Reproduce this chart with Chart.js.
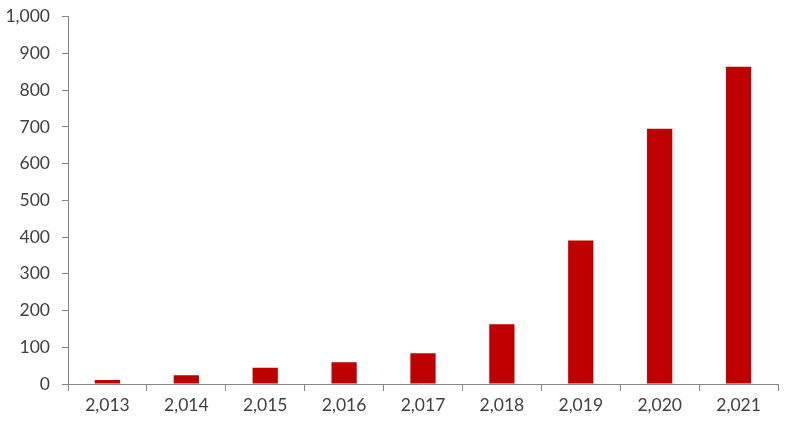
<!DOCTYPE html>
<html>
<head>
<meta charset="utf-8">
<script src="https://cdn.jsdelivr.net/npm/chart.js@4"></script>
<style>
  html, body { margin: 0; padding: 0; background: #fff; }
  #wrap { width: 800px; height: 426px; }
</style>
</head>
<body>
<div id="wrap"><canvas id="myChart" width="800" height="426"></canvas></div>
<script>
var years = ['2,013', '2,014', '2,015', '2,016', '2,017', '2,018', '2,019', '2,020', '2,021']
var values = [11, 24, 44, 59, 84, 163, 391, 695, 864]
var yTicks = [0, 100, 200, 300, 400, 500, 600, 700, 800, 900, 1000]

var axisColor = '#868686'
var textColor = '#404040'

var graphData = {
    type: 'bar',
    data: {
        labels: years,
        datasets: [{
            data: values,
            backgroundColor: '#c00000',
            barPercentage: 1,
            categoryPercentage: 0.32
        }]
    },
    options: {
        responsive: false,
        animation: false,
        devicePixelRatio: 1,
        layout: { padding: { left: 0, right: 22, top: 0, bottom: 6 } },
        plugins: {
            legend: { display: false },
            tooltip: { enabled: false }
        },
        scales: {
            x: {
                border: { color: axisColor, width: 1 },
                grid: { drawOnChartArea: false, color: axisColor, tickLength: 7, offset: true },
                ticks: { color: textColor, font: { family: 'Lato', size: 17.5 }, padding: 4, maxRotation: 0 }
            },
            y: {
                min: 0,
                max: 1000,
                afterBuildTicks: function (axis) {
                    axis.ticks = yTicks.map(function (v) { return { value: v } })
                },
                afterFit: function (axis) { axis.width = 68 },
                border: { color: axisColor, width: 1 },
                grid: { drawOnChartArea: false, color: axisColor, tickLength: 6 },
                ticks: {
                    color: textColor,
                    font: { family: 'Lato', size: 17.5, lineHeight: 0.55 },
                    padding: 12,
                    callback: function (v) { return v.toLocaleString('en-US') }
                }
            }
        }
    }
}

var ctx = document.getElementById('myChart').getContext('2d')
var myChart = new Chart(ctx, graphData)
</script>
</body>
</html>
